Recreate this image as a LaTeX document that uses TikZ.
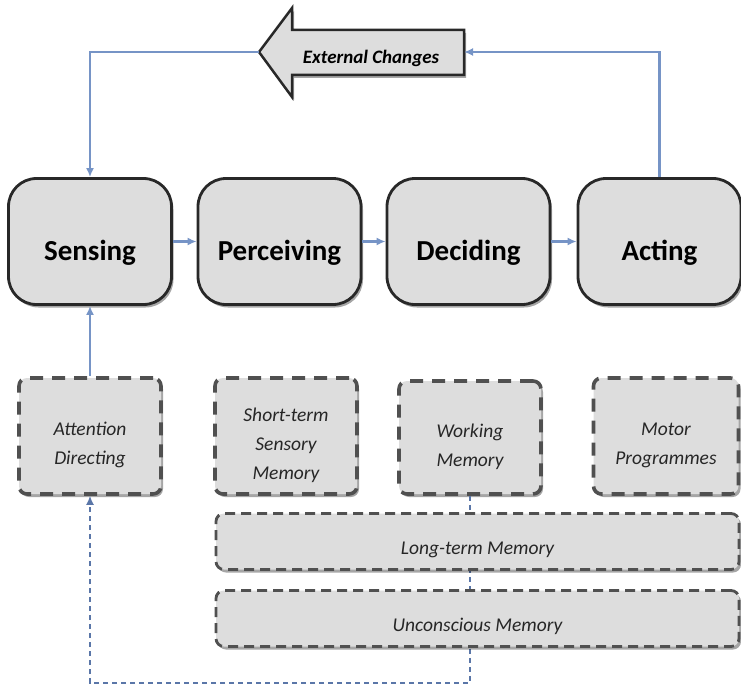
\documentclass[tikz,border=0pt]{standalone}
\usepackage{fontspec}
\setmainfont{Carlito}
\usetikzlibrary{shadows,arrows.meta,calc}
\definecolor{boxfill}{RGB}{221,221,221}
\definecolor{boxline}{RGB}{40,40,40}
\definecolor{dashline}{RGB}{80,80,80}
\definecolor{conncol}{RGB}{118,148,198}
\definecolor{dconncol}{RGB}{90,118,168}
\begin{document}
\begin{tikzpicture}[x=1pt,y=-1pt,
  shad/.style={drop shadow={shadow xshift=2pt,shadow yshift=-3pt,opacity=0.35,fill=black}},
  maintext/.style={font=\fontsize{29}{34}\selectfont\bfseries, yshift=-11pt, inner sep=0pt},
  memtext/.style={font=\fontsize{19.5}{29}\selectfont\itshape, text=black!85, align=center, inner sep=0pt},
  boxtext/.style={memtext, yshift=-9pt},
  longtext/.style={memtext, yshift=-8pt},
  mainbox/.style={draw=boxline, line width=2.8pt, fill=boxfill, rounded corners=28pt,
    minimum width=163pt, minimum height=126pt, inner sep=0pt, shad},
  membox/.style={draw=dashline, line width=3.6pt, dash pattern=on 13pt off 9pt, fill=boxfill,
    rounded corners=8pt, minimum width=142pt, minimum height=116pt, inner sep=0pt, shad},
  longbox/.style={membox, minimum width=523pt, minimum height=56pt, line width=2.8pt,
    dash pattern=on 10pt off 6pt},
  conn/.style={draw=conncol, line width=2.5pt, -{Latex[length=9pt,width=8pt]}},
  dconn/.style={draw=dconncol, line width=1.6pt, dash pattern=on 5pt off 4pt, -{Latex[length=9pt,width=8pt]}}
]
\useasboundingbox (0,0) rectangle (741,690);

% block arrow "External Changes"
\filldraw[draw=boxline, line width=2.5pt, fill=boxfill, line join=miter, shad]
  (259,52) -- (292,8) -- (292,30) -- (464,30) -- (464,75) -- (292,75) -- (292,97) -- cycle;
\node[font=\fontsize{19}{22}\selectfont\bfseries\itshape, inner sep=0pt] (ext) at (371,58) {External Changes};
\coordinate (extL) at (259,52);
\coordinate (extR) at (464,52);

% main boxes
\node[mainbox, label={[maintext]center:Sensing}]    (sensing)    at (90,241.5)    {};
\node[mainbox, label={[maintext]center:Perceiving}] (perceiving) at (279.5,241.5) {};
\node[mainbox, label={[maintext]center:Deciding}]   (deciding)   at (468.5,241.5) {};
\node[mainbox, label={[maintext]center:Acting}]     (acting)     at (659.5,241.5) {};

\coordinate (bot) at (90,683);

% memory boxes
\node[membox, label={[boxtext]center:{Attention\\Directing}}] (attention) at (90,436) {};
\node[membox, label={[boxtext]center:{Short-term\\Sensory\\Memory}}] (shortterm) at (286,436) {};
\node[membox, minimum height=113pt, label={[boxtext]center:{Working\\Memory}}] (working) at (470,437.5) {};
\node[membox, minimum width=145pt, label={[boxtext]center:{Motor\\Programmes}}] (motor) at (666,436) {};

\draw[dconn] (working.south) |- (bot) -- (attention.south);

\node[longbox, label={[longtext]center:Long-term Memory}]   (longterm)    at (477.5,541.5) {};
\node[longbox, label={[longtext]center:Unconscious Memory}] (unconscious) at (477.5,618.5) {};

% connectors
\draw[conn] (sensing) -- (perceiving);
\draw[conn] (perceiving) -- (deciding);
\draw[conn] (deciding) -- (acting);
\draw[conn] (acting.north) |- (extR);
\draw[conn] (extL) -| (sensing.north);
\draw[conn] (attention.north) -- (sensing.south);
\end{tikzpicture}
\end{document}
